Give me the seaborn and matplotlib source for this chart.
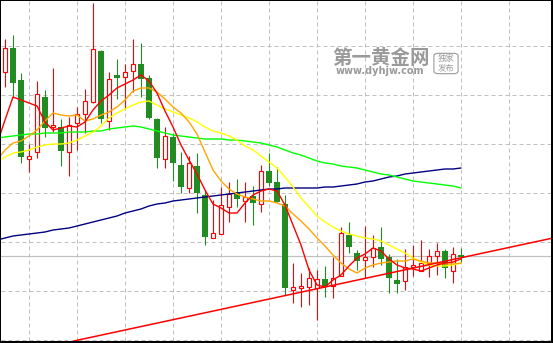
import numpy as np
import pandas as pd
import matplotlib
matplotlib.use("Agg")
import matplotlib.pyplot as plt
import seaborn as sns
from matplotlib.patches import FancyBboxPatch

# ---------------- data ----------------
opens = [1328, 1352, 1320, 1241, 1248, 1303, 1273, 1273, 1248, 1277,
         1286, 1298, 1349, 1279, 1325, 1323, 1329, 1336, 1322, 1281,
         1241, 1263, 1235, 1212, 1234, 1205, 1162, 1166, 1193, 1208,
         1199, 1204, 1196, 1229, 1218, 1196, 1110, 1112, 1113, 1112,
         1121, 1114, 1124, 1165, 1147, 1140, 1143, 1153, 1143, 1120,
         1119, 1133, 1129, 1137, 1144, 1149, 1129, 1145]
highs = [1361, 1365, 1327, 1256, 1319, 1310, 1332, 1281, 1283, 1293,
         1311, 1397, 1350, 1328, 1341, 1336, 1361, 1357, 1325, 1282,
         1273, 1267, 1248, 1244, 1247, 1210, 1200, 1213, 1218, 1221,
         1218, 1214, 1235, 1247, 1233, 1205, 1137, 1127, 1132, 1130,
         1134, 1143, 1173, 1178, 1150, 1174, 1165, 1173, 1146, 1141,
         1151, 1155, 1160, 1151, 1157, 1151, 1153, 1152]
lows = [1313, 1303, 1237, 1228, 1242, 1263, 1268, 1234, 1224, 1250,
        1267, 1297, 1277, 1270, 1301, 1291, 1308, 1303, 1281, 1232,
        1232, 1219, 1207, 1207, 1187, 1155, 1162, 1166, 1178, 1193,
        1178, 1175, 1188, 1214, 1198, 1105, 1097, 1093, 1095, 1080,
        1103, 1102, 1124, 1147, 1130, 1122, 1133, 1135, 1107, 1107,
        1110, 1124, 1129, 1123, 1125, 1122, 1117, 1138]
closes = [1352, 1317, 1243, 1244, 1306, 1272, 1275, 1249, 1275, 1286,
          1299, 1351, 1281, 1321, 1322, 1328, 1336, 1321, 1282, 1242,
          1264, 1237, 1213, 1237, 1207, 1163, 1167, 1195, 1206, 1201,
          1203, 1197, 1229, 1217, 1198, 1112, 1113, 1114, 1122, 1121,
          1114, 1122, 1167, 1153, 1139, 1143, 1152, 1141, 1122, 1116,
          1133, 1135, 1137, 1144, 1149, 1132, 1146, 1143]

# moving-average lines, one value per bar starting one bar before the first visible candle
ma_bars = list(range(-1, 58))
ma5 = [1256, 1280, 1303, 1300, 1297, 1294, 1278, 1270, 1272, 1274,
       1273, 1278, 1290, 1299, 1305, 1312, 1316, 1320, 1325, 1319,
       1307, 1289, 1273, 1255, 1240, 1226, 1210, 1196, 1192, 1187,
       1187, 1197, 1205, 1209, 1211, 1209, 1195, 1175, 1155, 1130,
       1115, 1113, 1120, 1125, 1134, 1142, 1146, 1152, 1149, 1141,
       1135, 1132, 1131, 1129, 1132, 1135, 1137, 1138, 1141]
ma10 = [1240, 1250, 1257, 1259, 1264, 1270, 1279, 1287, 1285, 1284,
        1285, 1279, 1281, 1285, 1288, 1293, 1300, 1309, 1312, 1312,
        1308, 1301, 1293, 1287, 1278, 1266, 1248, 1230, 1219, 1211,
        1206, 1203, 1201, 1199, 1199, 1197, 1194, 1186, 1179, 1171,
        1162, 1154, 1145, 1137, 1131, 1127, 1132, 1135, 1137, 1138,
        1139, 1139, 1141, 1139, 1137, 1137, 1136, 1136, 1137]
ma20 = [1238, 1243, 1247, 1248, 1250, 1253, 1255, 1256, 1256, 1257,
        1260, 1264, 1268, 1274, 1282, 1287, 1291, 1295, 1298, 1299,
        1295, 1291, 1288, 1285, 1282, 1278, 1273, 1269, 1267, 1264,
        1260, 1254, 1250, 1244, 1238, 1232, 1223, 1213, 1202, 1193,
        1184, 1178, 1173, 1169, 1166, 1164, 1162, 1161, 1159, 1155,
        1151, 1147, 1142, 1138, 1135, 1134, 1134, 1135, 1137]
ma60 = [1262, 1263, 1264, 1265, 1266, 1266, 1267, 1267, 1267, 1268,
        1268, 1268, 1269, 1269, 1271, 1272, 1273, 1274, 1273, 1271,
        1269, 1267, 1265, 1264, 1263, 1262, 1261, 1261, 1261, 1260,
        1260, 1259, 1258, 1257, 1255, 1253, 1250, 1247, 1245, 1242,
        1239, 1237, 1236, 1234, 1233, 1232, 1230, 1228, 1226, 1225,
        1223, 1221, 1219, 1218, 1217, 1216, 1215, 1214, 1212]
ma120 = [1160, 1162, 1164, 1165, 1166, 1167, 1168, 1170, 1171, 1172,
         1174, 1176, 1178, 1180, 1182, 1184, 1187, 1189, 1191, 1194,
         1196, 1197, 1199, 1200, 1201, 1202, 1203, 1204, 1205, 1206,
         1207, 1208, 1209, 1210, 1211, 1211, 1212, 1212, 1212, 1212,
         1212, 1213, 1213, 1214, 1215, 1216, 1218, 1219, 1221, 1223,
         1224, 1226, 1227, 1228, 1229, 1230, 1231, 1231, 1232]

trend_bars = [8.6, 68.5]
trend_prices = [1059, 1162]
ref_price = 1144
grid_prices = [1354, 1305, 1256, 1207, 1158, 1109, 1060]
grid_bars = [3, 9, 15, 21, 27, 33, 39, 45, 51, 57, 63]

# ---------------- styling ----------------
RED = "#ff0000"
GREEN = "#228b22"
PX = 0.72  # one pixel in points at 100 dpi

sns.set_theme(style="white")
plt.rcParams["font.family"] = ["Noto Sans CJK SC", "DejaVu Sans"]

fig = plt.figure(figsize=(5.53, 3.43), dpi=100, facecolor="black")
ax = fig.add_axes([1 / 553, 2 / 343, 550 / 553, 340 / 343])
ax.set_facecolor("white")
ax.set_xlim(-0.5, 68.25)
ax.set_ylim(1059, 1399)

# grid
for p in grid_prices:
    ax.axhline(p, color="#c0c0c0", lw=PX, ls=(0, (4, 3)), zorder=0.5)
for b in grid_bars:
    ax.axvline(b, color="#c0c0c0", lw=PX, ls=(0, (4, 3)), zorder=0.5)
ax.axhline(ref_price, color="#c0c0c0", lw=PX * 1.2, zorder=0.8)

# candles
o = np.array(opens, float)
h = np.array(highs, float)
l = np.array(lows, float)
c = np.array(closes, float)
bars = np.arange(len(o))
bull = c >= o
wick_colors = [RED if b else GREEN for b in bull]
ax.vlines(bars, l, h, colors=wick_colors, lw=PX * 1.1, zorder=2)
ax.bar(bars[~bull], (o - c)[~bull], bottom=c[~bull], width=0.65,
       color=GREEN, linewidth=0, zorder=3)
ax.bar(bars[bull], np.maximum((c - o)[bull], 0.5), bottom=o[bull], width=0.52,
       facecolor="white", edgecolor=RED, linewidth=PX * 1.15, zorder=3)

# moving averages via seaborn
ma_df = pd.DataFrame({
    "bar": ma_bars * 5,
    "price": ma120 + ma60 + ma20 + ma10 + ma5,
    "line": ["MA120"] * len(ma_bars) + ["MA60"] * len(ma_bars) + ["MA20"] * len(ma_bars)
            + ["MA10"] * len(ma_bars) + ["MA5"] * len(ma_bars),
})
palette = {"MA120": "#000080", "MA60": "#00ff00", "MA20": "#ffff00",
           "MA10": "#ffa500", "MA5": RED}
sns.lineplot(data=ma_df, x="bar", y="price", hue="line", palette=palette,
             legend=False, linewidth=1.0, errorbar=None, sort=False, ax=ax, zorder=4)

# trend line
sns.lineplot(x=trend_bars, y=trend_prices, color=RED, linewidth=1.1, ax=ax, zorder=5)

ax.set_xticks([])
ax.set_yticks([])
ax.set_xlabel("")
ax.set_ylabel("")
for s in ax.spines.values():
    s.set_visible(False)

# watermark
wm = "#8f8f8f"
fig.text(0.689, 1 - 63.5 / 343, "第一黄金网", ha="center", va="baseline", fontsize=14,
         fontweight="bold", color=wm, alpha=0.9, zorder=10)
fig.text(0.687, 1 - 66.5 / 343, "www.dyhjw.com", ha="center", va="top", fontsize=7.0,
         fontweight="bold", color=wm, alpha=0.9, family=["DejaVu Sans"], zorder=10)
box = FancyBboxPatch((435 / 553, 1 - 73 / 343), 22 / 553, 19 / 343,
                     boxstyle="round,pad=0.002,rounding_size=0.008",
                     transform=fig.transFigure, fill=False, edgecolor=wm, lw=0.8, alpha=0.9,
                     zorder=10)
fig.patches.append(box)
fig.text(446 / 553, 1 - 58 / 343, "独家", ha="center", va="center", fontsize=6.0,
         color=wm, alpha=0.9, zorder=10)
fig.text(446 / 553, 1 - 68 / 343, "发布", ha="center", va="center", fontsize=6.0,
         color=wm, alpha=0.9, zorder=10)

fig.savefig("out.png", dpi=100, facecolor=fig.get_facecolor())
